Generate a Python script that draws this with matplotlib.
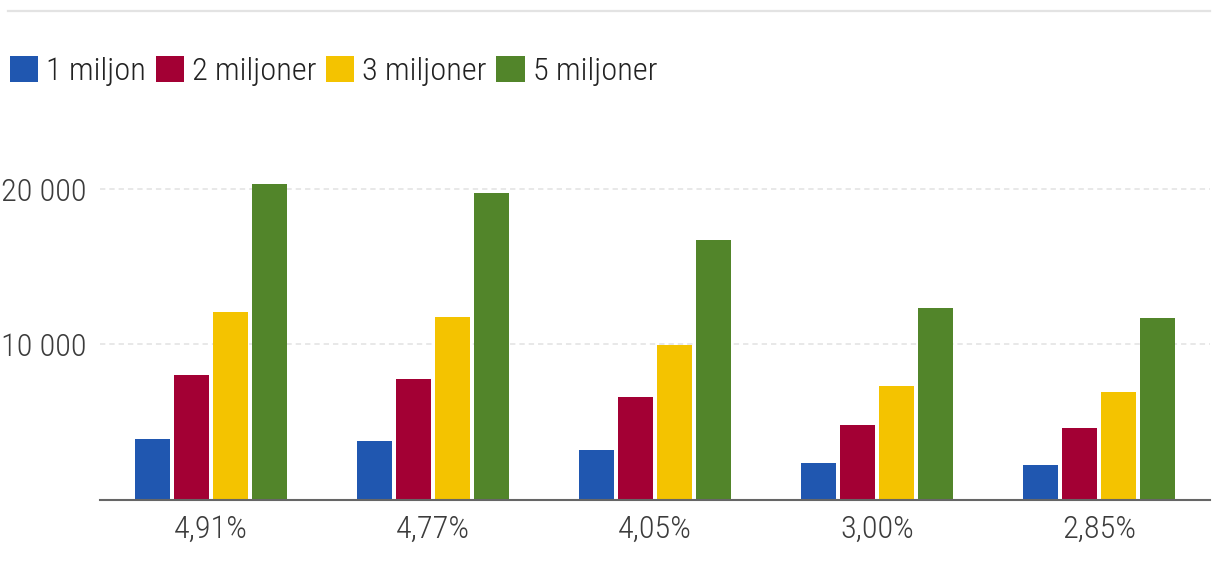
import matplotlib
matplotlib.use("Agg")
import matplotlib.pyplot as plt
from matplotlib.lines import Line2D
from matplotlib.patches import Patch
import numpy as np

# data
rates = ["4,91%", "4,77%", "4,05%", "3,00%", "2,85%"]
series = ["1 miljon", "2 miljoner", "3 miljoner", "5 miljoner"]
en_miljon = [3900, 3770, 3190, 2350, 2220]
tva_miljoner = [8020, 7760, 6600, 4800, 4610]
tre_miljoner = [12080, 11760, 9950, 7310, 6930]
fem_miljoner = [20330, 19750, 16720, 12340, 11690]
yticks = [10000, 20000]
ytick_labels = ["10 000", "20 000"]
colors = ["#2057b0", "#a30034", "#f4c300", "#52852a"]

plt.rcParams["font.family"] = ["Roboto Condensed", "DejaVu Sans"]
plt.rcParams["font.weight"] = 300

W, H = 1220, 572
fig = plt.figure(figsize=(W / 100, H / 100), dpi=100)
ax = fig.add_axes([100 / W, 1 - 499.5 / H, 1110 / W, 341.4 / H])

x = np.arange(len(rates))
step = 39 / 222
width = 35 / 222
for i, (vals, col) in enumerate(zip([en_miljon, tva_miljoner, tre_miljoner, fem_miljoner], colors)):
    ax.bar(x + (i - 1.5) * step, vals, width=width, color=col, zorder=3, label=series[i])

ax.set_xlim(-0.5, len(rates) - 0.5)
ax.set_ylim(0, 22000)
ax.set_yticks(yticks)
ax.set_yticklabels(ytick_labels)
ax.set_xticks(x)
ax.set_xticklabels(rates)
ax.tick_params(axis="both", length=0, labelsize=23.3, colors="#3c3c3c")
ax.tick_params(axis="y", pad=10)
ax.tick_params(axis="x", pad=11)
ax.grid(axis="y", color="#e2e2e2", linewidth=1.1, linestyle=(0, (3.5, 2.6)), zorder=0)

for s in ["top", "right", "left"]:
    ax.spines[s].set_visible(False)
ax.spines["bottom"].set_color("#666666")
ax.spines["bottom"].set_linewidth(1.5)
ax.spines["bottom"].set_zorder(4)

# light rule along the top
fig.add_artist(Line2D([8 / W, 1210 / W], [1 - 11 / H, 1 - 11 / H], color="#e3e3e3", linewidth=1.6))

handles = [Patch(facecolor=c, edgecolor="none") for c in colors]
fig.legend(handles, series, loc="upper left", bbox_to_anchor=(10 / W, 1 - 56 / H),
           frameon=False, ncol=4, fontsize=23.3, handlelength=0.87, handleheight=0.87,
           handletextpad=0.25, columnspacing=0.3, borderpad=0, borderaxespad=0,
           labelcolor="#222222")

fig.savefig("out.png", dpi=100)
